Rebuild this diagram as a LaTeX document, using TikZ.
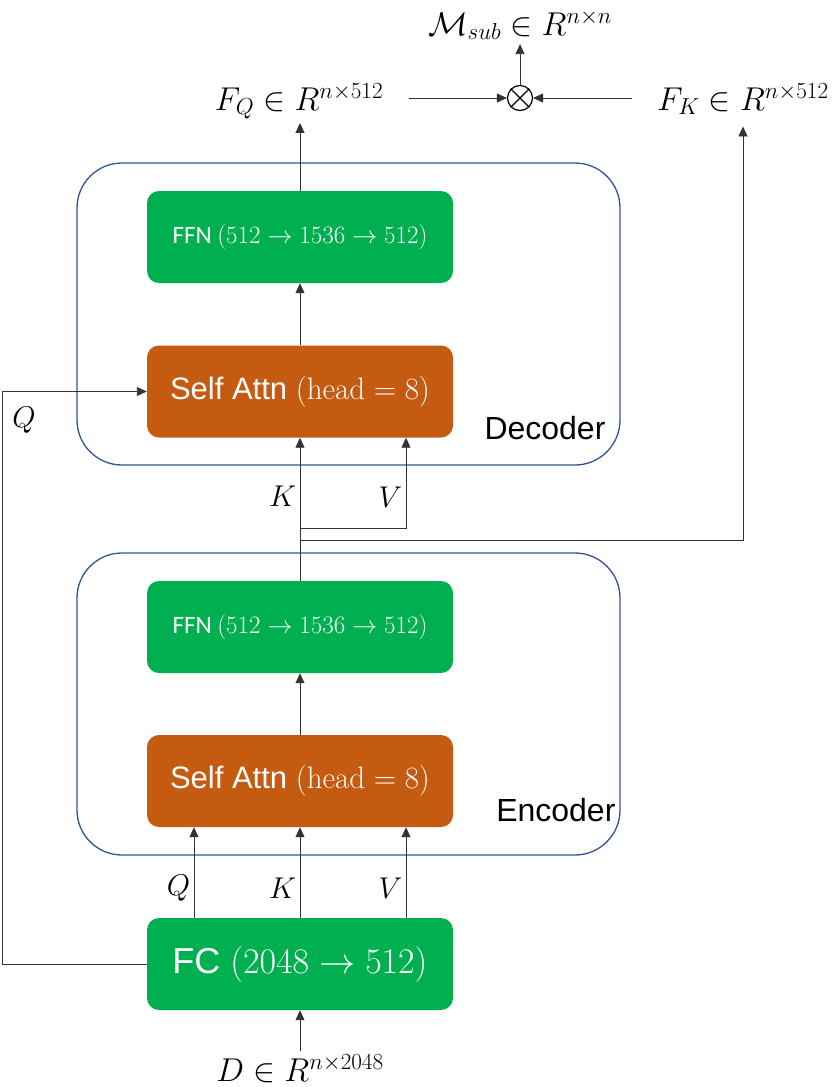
\RequirePackage{fix-cm}
\documentclass[tikz,border=0pt]{standalone}
\usepackage{fontspec}
\newfontfamily\arialfont{Liberation Sans}
\newfontfamily\calibfont{Carlito}
\usetikzlibrary{arrows.meta,positioning,calc}
\definecolor{boxgreen}{HTML}{00B050}
\definecolor{boxorange}{HTML}{C55A11}
\definecolor{outerblue}{HTML}{2F5597}
\tikzset{
  block/.style={rounded corners=12pt, minimum width=306pt, minimum height=92pt, text=white, inner sep=0pt},
  ffnbox/.style={block, fill=boxgreen, font=\calibfont\fontsize{25}{27}\selectfont},
  attnbox/.style={block, fill=boxorange, font=\arialfont\fontsize{31}{33}\selectfont},
  fcbox/.style={block, fill=boxgreen, font=\arialfont\fontsize{36}{38}\selectfont},
  outerbox/.style={draw=outerblue, line width=1.3pt, rounded corners=45pt, minimum width=543pt, minimum height=302pt},
  boxname/.style={anchor=base east, inner sep=0pt, font=\arialfont\fontsize{32}{34}\selectfont},
  arr/.style={-{Triangle[length=10pt,width=9pt]}, line width=0.9pt, draw=black!80},
  biglab/.style={font=\fontsize{33}{35}\selectfont},
  smalllab/.style={font=\fontsize{30}{32}\selectfont},
}

\begin{document}
\begin{tikzpicture}[x=1pt, y=-1pt]
		\useasboundingbox (0,0) rectangle (831,1087);
		%%%%% OUTER BOXES %%%%%
		\node[outerbox] (dec) at (348.5,314) {};
		\node[outerbox] (enc) at (348.5,704) {};
		\node[boxname] at ([xshift=-15pt, yshift=26pt]dec.south east) {Decoder};
		\node[boxname] at ([xshift=-5pt, yshift=34pt]enc.south east) {Encoder};
		
		%%%%% BLOCKS %%%%%
		\node[ffnbox] (dffn) at (300,237) {FFN $(512\rightarrow 1536\rightarrow 512)$};
		\node[attnbox] (dsa) at (300,391.5) {Self Attn $(\mathrm{head}=8)$};
		\node[ffnbox] (effn) at (300,627) {FFN $(512\rightarrow 1536\rightarrow 512)$};
		\node[attnbox] (esa) at (300,781) {Self Attn $(\mathrm{head}=8)$};
		\node[fcbox] (fc) at (300,964) {FC $(2048\rightarrow 512)$};
		
		%%%%% LABELS %%%%%
		\node[biglab, anchor=base] (fq) at (299,110) {$F_Q \in R^{n\times 512}$};
		\node[biglab, anchor=base] (fk) at (743,110) {$F_K \in R^{n\times 512}$};
		\node[biglab, anchor=base, inner sep=2pt] (msub) at (520,35) {$\mathcal{M}_{sub} \in R^{n\times n}$};
		\node[biglab, anchor=base] (din) at (300,1081) {$D \in R^{n\times 2048}$};
		\node[draw, circle, line width=1.2pt, minimum size=25pt, inner sep=0pt] (mul) at (520,98) {};
		\draw[line width=1.2pt] (mul.north west) -- (mul.south east) (mul.north east) -- (mul.south west);
		
		\coordinate (vsplit) at (300,528);
		\coordinate (fksplit) at (300,540);
		\coordinate (qturn) at (2,0);
		
		%%%%% CONNECTORS %%%%%
		\draw[arr] (fc.south |- din.north) -- (fc.south);
		\foreach \dx/\lab in {-106/Q,0/K,106/V}
			\draw[arr] ([xshift=\dx]fc.north) -- node[smalllab, left, pos=0.33] {$\lab$} ([xshift=\dx]esa.south);
		\draw[arr] (esa.north) -- (effn.south);
		\draw[arr] (effn.north) -- node[smalllab, left, pos=0.59] {$K$} (dsa.south);
		\draw[arr] (vsplit) -| node[smalllab, left, pos=0.67] {$V$} ([xshift=106]dsa.south);
		\draw[arr] (fksplit) -| ([yshift=-8pt]fk.south);
		\draw[arr] (dsa.north) -- (dffn.south);
		\draw[arr] (dffn.north) -- (dffn.north |- fq.south);
		\draw[arr] (fc.west) -| (qturn |- dsa.west) -- (dsa.west);
		\node[smalllab] (qlab) at (24,420) {$Q$};
		\draw[arr, shorten <=22pt] (fq.east |- mul.west) -- (mul.west);
		\draw[arr, shorten <=22pt] (fk.west |- mul.east) -- (mul.east);
		\draw[arr] (mul.north) -- ([yshift=-2pt]mul.north |- msub.south);
\end{tikzpicture}
\end{document}
